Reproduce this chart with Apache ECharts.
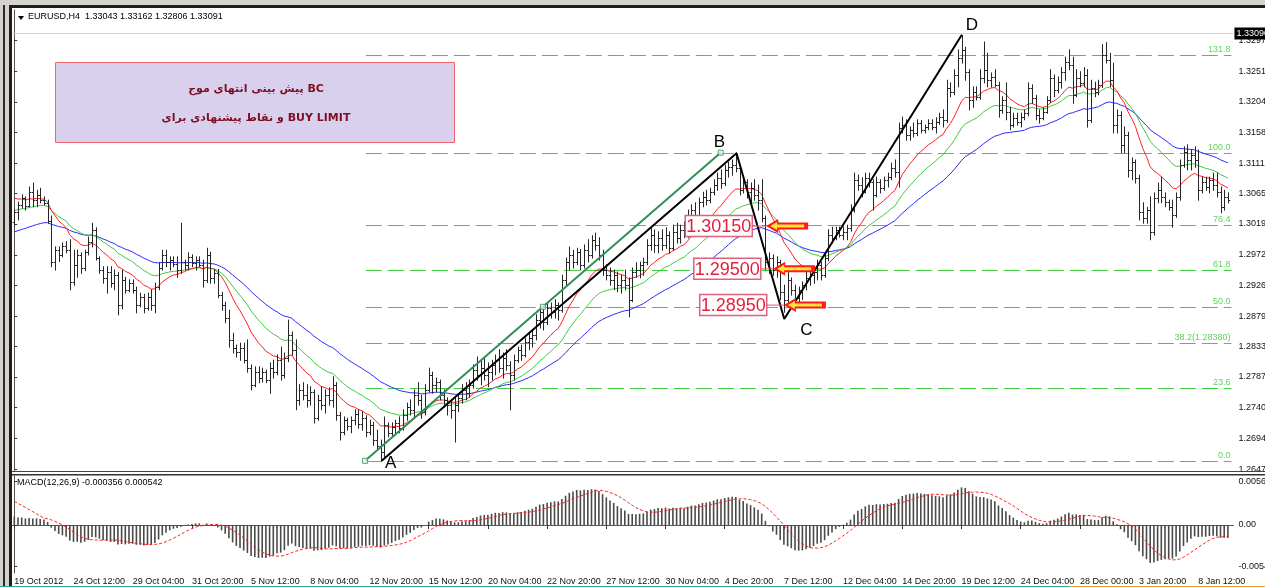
<!DOCTYPE html>
<html>
<head>
<meta charset="utf-8">
<script src="https://cdn.jsdelivr.net/npm/echarts@6/dist/echarts.min.js"></script>
<style>
html,body{margin:0;padding:0;background:#fff;}
#chart{width:1265px;height:587px;}
</style>
</head>
<body>
<div id="chart"></div>
<script>
// EURUSD H4 – bar chart with moving averages, ABCD pattern, Fibonacci levels and MACD(12,26,9)

const symbolName = 'EURUSD,H4';
const quoteOHLC = [1.33043, 1.33162, 1.32806, 1.33091];
const macdHeaderValues = [-0.000356, 0.000542];
const bidPrice = 1.33090;

// time-axis labels, one every 16 H4 bars
const tickLabels = ['19 Oct 2012','24 Oct 12:00','29 Oct 04:00','31 Oct 20:00','5 Nov 12:00','8 Nov 04:00',
  '12 Nov 20:00','15 Nov 12:00','20 Nov 04:00','22 Nov 20:00','27 Nov 12:00','30 Nov 04:00','4 Dec 20:00',
  '7 Dec 12:00','12 Dec 04:00','14 Dec 20:00','19 Dec 12:00','24 Dec 04:00','28 Dec 00:00','3 Jan 20:00','8 Jan 12:00'];
const barsPerTick = 16;
const slotCount = 330;

// price-scale labels
const priceTicks = [1.26470,1.26940,1.27400,1.27870,1.28330,1.28790,1.29260,1.29720,1.30190,1.30650,1.31110,1.31580,1.32040,1.32510,1.32970];
const macdTicks = [-0.00540, 0, 0.00561];

const barOpen = [
1.3022,1.3037,1.3048,1.3058,1.3046,1.3067,1.3055,1.3063,1.3055,1.3051,
1.3023,1.2961,1.2979,1.2972,1.2986,1.2979,1.2931,1.2956,1.2972,1.2952,
1.2976,1.2992,1.3010,1.2967,1.2949,1.2937,1.2946,1.2929,1.2941,1.2896,
1.2934,1.2919,1.2929,1.2919,1.2896,1.2908,1.2891,1.2908,1.2896,1.2923,
1.2952,1.2972,1.2961,1.2964,1.2958,1.2949,1.2961,1.2957,1.2969,1.2960,
1.2964,1.2957,1.2934,1.2972,1.2937,1.2945,1.2911,1.2896,1.2876,1.2843,
1.2831,1.2825,1.2831,1.2812,1.2800,1.2775,1.2794,1.2785,1.2794,1.2782,
1.2800,1.2794,1.2812,1.2790,1.2815,1.2850,1.2828,1.2752,1.2767,1.2759,
1.2752,1.2764,1.2724,1.2752,1.2744,1.2759,1.2752,1.2775,1.2729,1.2703,
1.2721,1.2712,1.2721,1.2730,1.2715,1.2724,1.2703,1.2714,1.2691,1.2682,
1.2673,1.2714,1.2702,1.2711,1.2717,1.2709,1.2729,1.2741,1.2737,1.2759,
1.2752,1.2734,1.2767,1.2790,1.2775,1.2779,1.2759,1.2752,1.2744,1.2737,
1.2744,1.2755,1.2767,1.2762,1.2775,1.2797,1.2790,1.2800,1.2790,1.2794,
1.2805,1.2812,1.2800,1.2815,1.2805,1.2790,1.2812,1.2828,1.2820,1.2840,
1.2846,1.2850,1.2873,1.2885,1.2870,1.2891,1.2885,1.2896,1.2888,1.2934,
1.2961,1.2972,1.2961,1.2976,1.2957,1.2979,1.2972,1.2995,1.2987,1.2972,
1.2949,1.2941,1.2934,1.2941,1.2926,1.2934,1.2926,1.2904,1.2946,1.2949,
1.2957,1.2961,1.2987,1.3002,1.2987,1.2998,1.2987,1.3002,1.2982,1.3007,
1.2998,1.3010,1.3002,1.3033,1.3040,1.3025,1.3052,1.3060,1.3055,1.3067,
1.3078,1.3089,1.3081,1.3101,1.3105,1.3108,1.3104,1.3070,1.3083,1.3067,
1.3074,1.3063,1.3055,1.3028,1.2961,1.2967,1.2949,1.2961,1.2916,1.2904,
1.2934,1.2919,1.2907,1.2919,1.2926,1.2937,1.2941,1.2946,1.2957,1.2941,
1.2967,1.3002,1.2998,1.3010,1.3002,1.3007,1.3013,1.3040,1.3086,1.3078,
1.3067,1.3089,1.3083,1.3063,1.3083,1.3074,1.3086,1.3090,1.3104,1.3098,
1.3165,1.3169,1.3154,1.3162,1.3157,1.3172,1.3162,1.3166,1.3172,1.3166,
1.3174,1.3181,1.3177,1.3225,1.3219,1.3245,1.3271,1.3283,1.3250,1.3207,
1.3219,1.3212,1.3240,1.3253,1.3237,1.3242,1.3230,1.3192,1.3207,1.3189,
1.3169,1.3180,1.3174,1.3181,1.3187,1.3225,1.3210,1.3184,1.3180,1.3189,
1.3207,1.3240,1.3222,1.3234,1.3250,1.3265,1.3260,1.3215,1.3240,1.3233,
1.3245,1.3177,1.3225,1.3219,1.3230,1.3275,1.3268,1.3237,1.3169,1.3184,
1.3139,1.3154,1.3101,1.3113,1.3089,1.3037,1.3028,1.3040,1.3007,1.3058,
1.3070,1.3060,1.3052,1.3045,1.3033,1.3060,1.3108,1.3128,1.3116,1.3124,
1.3116,1.3070,1.3083,1.3075,1.3086,1.3078,1.3067,1.3045,1.3060];

const barHigh = [
1.3040,1.3052,1.3063,1.3060,1.3075,1.3081,1.3070,1.3073,1.3060,1.3055,
1.3031,1.2984,1.2984,1.2990,1.2992,1.2995,1.2979,1.2979,1.2975,1.2979,
1.2999,1.3020,1.3013,1.2969,1.2954,1.2954,1.2954,1.2949,1.2945,1.2949,
1.2938,1.2934,1.2934,1.2923,1.2914,1.2912,1.2914,1.2919,1.2929,1.2960,
1.2979,1.2979,1.2969,1.2969,1.2969,1.3020,1.2964,1.2975,1.2972,1.2969,
1.2969,1.2964,1.2982,1.2976,1.2949,1.2950,1.2915,1.2900,1.2888,1.2853,
1.2835,1.2838,1.2838,1.2843,1.2805,1.2802,1.2802,1.2800,1.2797,1.2808,
1.2812,1.2820,1.2832,1.2823,1.2873,1.2855,1.2843,1.2775,1.2778,1.2775,
1.2772,1.2767,1.2759,1.2772,1.2767,1.2770,1.2787,1.2778,1.2733,1.2726,
1.2724,1.2726,1.2737,1.2737,1.2734,1.2728,1.2721,1.2718,1.2706,1.2691,
1.2726,1.2717,1.2717,1.2721,1.2726,1.2737,1.2747,1.2752,1.2767,1.2778,
1.2759,1.2775,1.2800,1.2794,1.2785,1.2782,1.2767,1.2755,1.2752,1.2755,
1.2759,1.2775,1.2778,1.2782,1.2805,1.2817,1.2812,1.2815,1.2808,1.2812,
1.2820,1.2828,1.2823,1.2828,1.2810,1.2820,1.2832,1.2835,1.2846,1.2853,
1.2858,1.2881,1.2893,1.2891,1.2899,1.2899,1.2904,1.2899,1.2941,1.2967,
1.2984,1.2979,1.2982,1.2980,1.2987,1.2995,1.3001,1.3005,1.2998,1.2979,
1.2957,1.2952,1.2949,1.2946,1.2941,1.2949,1.2937,1.2952,1.2960,1.2961,
1.2967,1.2995,1.3014,1.3010,1.3007,1.3010,1.3013,1.3007,1.3017,1.3020,
1.3017,1.3022,1.3040,1.3048,1.3051,1.3058,1.3067,1.3070,1.3073,1.3086,
1.3096,1.3101,1.3108,1.3113,1.3116,1.3127,1.3108,1.3089,1.3086,1.3081,
1.3086,1.3078,1.3086,1.3031,1.2975,1.2972,1.2969,1.2964,1.2926,1.2945,
1.2937,1.2926,1.2923,1.2931,1.2946,1.2949,1.2952,1.2964,1.2961,1.2975,
1.3010,1.3014,1.3014,1.3014,1.3014,1.3017,1.3048,1.3096,1.3093,1.3089,
1.3096,1.3096,1.3086,1.3090,1.3086,1.3090,1.3096,1.3111,1.3116,1.3172,
1.3181,1.3177,1.3166,1.3172,1.3177,1.3176,1.3169,1.3177,1.3177,1.3180,
1.3187,1.3192,1.3237,1.3233,1.3253,1.3283,1.3305,1.3287,1.3253,1.3227,
1.3227,1.3253,1.3295,1.3278,1.3248,1.3253,1.3234,1.3212,1.3233,1.3196,
1.3187,1.3187,1.3187,1.3192,1.3233,1.3230,1.3214,1.3192,1.3195,1.3212,
1.3253,1.3245,1.3242,1.3256,1.3272,1.3283,1.3272,1.3253,1.3250,1.3256,
1.3253,1.3237,1.3234,1.3237,1.3291,1.3294,1.3278,1.3263,1.3192,1.3189,
1.3166,1.3158,1.3119,1.3116,1.3093,1.3051,1.3044,1.3060,1.3066,1.3081,
1.3090,1.3066,1.3055,1.3055,1.3066,1.3116,1.3136,1.3139,1.3131,1.3136,
1.3131,1.3090,1.3090,1.3090,1.3096,1.3096,1.3075,1.3070,1.3066];

const barLow = [
1.3014,1.3025,1.3043,1.3040,1.3045,1.3045,1.3045,1.3051,1.3048,1.3020,
1.2954,1.2949,1.2962,1.2969,1.2975,1.2919,1.2926,1.2938,1.2944,1.2948,
1.2972,1.2984,1.2964,1.2944,1.2929,1.2914,1.2923,1.2919,1.2881,1.2890,
1.2914,1.2916,1.2914,1.2884,1.2893,1.2884,1.2888,1.2888,1.2884,1.2919,
1.2949,1.2954,1.2949,1.2954,1.2938,1.2944,1.2949,1.2949,1.2954,1.2949,
1.2954,1.2923,1.2930,1.2929,1.2929,1.2907,1.2888,1.2869,1.2832,1.2823,
1.2817,1.2812,1.2808,1.2794,1.2767,1.2772,1.2778,1.2779,1.2778,1.2762,
1.2785,1.2790,1.2782,1.2785,1.2810,1.2820,1.2737,1.2744,1.2752,1.2741,
1.2744,1.2717,1.2721,1.2737,1.2732,1.2744,1.2741,1.2721,1.2691,1.2699,
1.2706,1.2702,1.2714,1.2709,1.2706,1.2696,1.2699,1.2683,1.2676,1.2659,
1.2666,1.2696,1.2696,1.2699,1.2702,1.2706,1.2721,1.2729,1.2726,1.2744,
1.2724,1.2729,1.2764,1.2762,1.2764,1.2752,1.2741,1.2729,1.2724,1.2688,
1.2734,1.2747,1.2752,1.2756,1.2770,1.2782,1.2775,1.2782,1.2772,1.2782,
1.2790,1.2794,1.2785,1.2797,1.2737,1.2782,1.2809,1.2812,1.2817,1.2828,
1.2832,1.2843,1.2861,1.2858,1.2866,1.2876,1.2876,1.2873,1.2885,1.2926,
1.2949,1.2952,1.2957,1.2949,1.2952,1.2961,1.2967,1.2979,1.2964,1.2941,
1.2934,1.2926,1.2919,1.2916,1.2914,1.2919,1.2878,1.2901,1.2938,1.2937,
1.2941,1.2957,1.2979,1.2976,1.2975,1.2979,1.2982,1.2975,1.2979,1.2990,
1.2990,1.2998,1.2998,1.3022,1.3017,1.3022,1.3045,1.3048,1.3051,1.3063,
1.3070,1.3073,1.3077,1.3090,1.3093,1.3098,1.3063,1.3066,1.3058,1.3045,
1.3055,1.3040,1.3022,1.2949,1.2944,1.2941,1.2938,1.2904,1.2885,1.2900,
1.2911,1.2899,1.2899,1.2904,1.2919,1.2926,1.2929,1.2934,1.2934,1.2938,
1.2963,1.2990,1.2995,1.2999,1.2995,1.2995,1.3008,1.3037,1.3070,1.3060,
1.3066,1.3075,1.3040,1.3060,1.3066,1.3070,1.3075,1.3086,1.3090,1.3075,
1.3157,1.3146,1.3146,1.3151,1.3153,1.3157,1.3157,1.3162,1.3162,1.3157,
1.3170,1.3166,1.3173,1.3212,1.3215,1.3227,1.3263,1.3237,1.3192,1.3196,
1.3207,1.3208,1.3233,1.3227,1.3227,1.3227,1.3181,1.3187,1.3177,1.3162,
1.3166,1.3169,1.3166,1.3177,1.3183,1.3202,1.3177,1.3172,1.3177,1.3187,
1.3203,1.3212,1.3218,1.3225,1.3237,1.3253,1.3202,1.3212,1.3227,1.3227,
1.3166,1.3173,1.3212,1.3215,1.3226,1.3263,1.3227,1.3157,1.3157,1.3127,
1.3127,1.3090,1.3086,1.3081,1.3025,1.3020,1.3020,1.2995,1.3002,1.3051,
1.3051,1.3045,1.3040,1.3014,1.3029,1.3055,1.3105,1.3101,1.3101,1.3105,
1.3055,1.3066,1.3070,1.3066,1.3070,1.3060,1.3036,1.3040,1.3051];

const barClose = [
1.3037,1.3048,1.3058,1.3046,1.3067,1.3055,1.3063,1.3055,1.3051,1.3023,
1.2961,1.2979,1.2972,1.2986,1.2979,1.2931,1.2956,1.2972,1.2952,1.2976,
1.2992,1.3010,1.2967,1.2949,1.2937,1.2946,1.2929,1.2941,1.2896,1.2934,
1.2919,1.2929,1.2919,1.2896,1.2908,1.2891,1.2908,1.2896,1.2923,1.2952,
1.2972,1.2961,1.2964,1.2958,1.2949,1.2961,1.2957,1.2969,1.2960,1.2964,
1.2957,1.2934,1.2972,1.2937,1.2945,1.2911,1.2896,1.2876,1.2843,1.2831,
1.2825,1.2831,1.2812,1.2800,1.2775,1.2794,1.2785,1.2794,1.2782,1.2800,
1.2794,1.2812,1.2790,1.2815,1.2850,1.2828,1.2752,1.2767,1.2759,1.2752,
1.2764,1.2724,1.2752,1.2744,1.2759,1.2752,1.2775,1.2729,1.2703,1.2721,
1.2712,1.2721,1.2730,1.2715,1.2724,1.2703,1.2714,1.2691,1.2682,1.2673,
1.2714,1.2702,1.2711,1.2717,1.2709,1.2729,1.2741,1.2737,1.2759,1.2752,
1.2734,1.2767,1.2790,1.2775,1.2779,1.2759,1.2752,1.2744,1.2737,1.2744,
1.2755,1.2767,1.2762,1.2775,1.2797,1.2790,1.2800,1.2790,1.2794,1.2805,
1.2812,1.2800,1.2815,1.2805,1.2790,1.2812,1.2828,1.2820,1.2840,1.2846,
1.2850,1.2873,1.2885,1.2870,1.2891,1.2885,1.2896,1.2888,1.2934,1.2961,
1.2972,1.2961,1.2976,1.2957,1.2979,1.2972,1.2995,1.2987,1.2972,1.2949,
1.2941,1.2934,1.2941,1.2926,1.2934,1.2926,1.2904,1.2946,1.2949,1.2957,
1.2961,1.2987,1.3002,1.2987,1.2998,1.2987,1.3002,1.2982,1.3007,1.2998,
1.3010,1.3002,1.3033,1.3040,1.3025,1.3052,1.3060,1.3055,1.3067,1.3078,
1.3089,1.3081,1.3101,1.3105,1.3108,1.3104,1.3070,1.3083,1.3067,1.3074,
1.3063,1.3055,1.3028,1.2961,1.2967,1.2949,1.2961,1.2916,1.2904,1.2934,
1.2919,1.2907,1.2919,1.2926,1.2937,1.2941,1.2946,1.2957,1.2941,1.2967,
1.3002,1.2998,1.3010,1.3002,1.3007,1.3013,1.3040,1.3086,1.3078,1.3067,
1.3089,1.3083,1.3063,1.3083,1.3074,1.3086,1.3090,1.3104,1.3098,1.3165,
1.3169,1.3154,1.3162,1.3157,1.3172,1.3162,1.3166,1.3172,1.3166,1.3174,
1.3181,1.3177,1.3225,1.3219,1.3245,1.3271,1.3283,1.3250,1.3207,1.3219,
1.3212,1.3240,1.3253,1.3237,1.3242,1.3230,1.3192,1.3207,1.3189,1.3169,
1.3180,1.3174,1.3181,1.3187,1.3225,1.3210,1.3184,1.3180,1.3189,1.3207,
1.3240,1.3222,1.3234,1.3250,1.3265,1.3260,1.3215,1.3240,1.3233,1.3245,
1.3177,1.3225,1.3219,1.3230,1.3275,1.3268,1.3237,1.3169,1.3184,1.3139,
1.3154,1.3101,1.3113,1.3089,1.3037,1.3028,1.3040,1.3007,1.3058,1.3070,
1.3060,1.3052,1.3045,1.3033,1.3060,1.3108,1.3128,1.3116,1.3124,1.3116,
1.3070,1.3083,1.3075,1.3086,1.3078,1.3067,1.3045,1.3060,1.3055];

// moving averages (exponential), value of each average at the first bar
const maPeriods = [14, 26, 48];
const maStart = [1.3058, 1.3040, 1.3007];
// MACD(12,26,9): fast/slow EMA and signal value at the first bar
const macdStart = [1.3052, 1.3041, 0.0033];

// ABCD swing points [bar, price, name]
const pivots = [[99.3, 1.26596, 'A'], [195.2, 1.31261, 'B'], [208.1, 1.28746, 'C'], [256.1, 1.33061, 'D']];
// trend line drawn along the AB leg
const trendLine = [[94.8, 1.26594], [190.9, 1.31270]];
// Fibonacci retracement anchored on AB
const fibLow = 1.26594, fibHigh = 1.31270, fibStartBar = 95;
const fibLevels = [0, 23.6, 38.2, 50, 61.8, 76.4, 100, 131.8];
// suggested buy-limit prices
const buyLimits = [1.30150, 1.29500, 1.28950];

// ---------- layout / style ----------
const GRID_LEFT = 12.45, GRID_W = 1221;
const FONT = "'Liberation Sans', Arial, sans-serif";
const labelPlacement = [{box: 190.4, arrow: 203.2}, {box: 192.7, arrow: 205.1}, {box: 194.3, arrow: 208.0}];
const pivotOffsets = {A: [9, 3], B: [-17, -11], C: [22, 11], D: [10, -9]};

function ema(values, period, start) {
  const k = 2 / (period + 1);
  let prev = start;
  return values.map((v, i) => {
    if (i > 0) prev = prev + k * (v - prev);
    return prev;
  });
}

const ohlc = barClose.map((c, i) => [i, barOpen[i], barHigh[i], barLow[i], c]);
const maSeries = maPeriods.map((p, k) => ema(barClose, p, maStart[k]).map((v, i) => [i, v]));

const fastLine = ema(barClose, 12, macdStart[0]);
const slowLine = ema(barClose, 26, macdStart[1]);
const macdMain = fastLine.map((f, i) => f - slowLine[i]);
const macdSignal = macdMain.map((_, i) => {
  let s = 0;
  for (let j = i - 8; j <= i; j++) s += j < 0 ? macdStart[2] : macdMain[j];
  return s / 9;
});

const fibData = fibLevels.map(l => [fibStartBar, fibLow + (fibHigh - fibLow) * l / 100, l]);
const trendMid = [(trendLine[0][0] + trendLine[1][0]) / 2, (trendLine[0][1] + trendLine[1][1]) / 2];
const limitData = buyLimits.map((p, k) => [labelPlacement[k].box, p, labelPlacement[k].arrow]);

const tickIdx = tickLabels.map((_, k) => k * barsPerTick);

const chart = echarts.init(document.getElementById('chart'), null, {renderer: 'canvas'});

const option = {
  animation: false,
  backgroundColor: '#ffffff',
  grid: [
    {left: GRID_LEFT, top: 10, width: GRID_W, height: 461, outerBoundsMode: 'none', containLabel: false},
    {left: GRID_LEFT, top: 476, width: GRID_W, height: 97, outerBoundsMode: 'none', containLabel: false}
  ],
  xAxis: [
    {gridIndex: 0, type: 'value', min: -0.5, max: slotCount - 0.5, show: false},
    {gridIndex: 1, type: 'value', min: -0.5, max: slotCount - 0.5,
      axisLine: {show: true, lineStyle: {color: '#555', width: 1}},
      axisTick: {show: true, customValues: tickIdx, length: 4, lineStyle: {color: '#333'}},
      axisLabel: {show: true, customValues: tickIdx, formatter: v => tickLabels[Math.round(v / barsPerTick)] || '',
        align: 'left', margin: 4, fontSize: 9, color: '#111', fontFamily: FONT, hideOverlap: false},
      splitLine: {show: false}}
  ],
  yAxis: [
    {gridIndex: 0, type: 'value', position: 'right', min: 1.26440, max: 1.33436,
      axisLine: {show: true, lineStyle: {color: '#555'}},
      axisTick: {show: true, customValues: priceTicks, length: 3, lineStyle: {color: '#333'}},
      axisLabel: {show: true, customValues: priceTicks, formatter: v => v.toFixed(5), margin: 5,
        fontSize: 9, color: '#111', fontFamily: FONT},
      splitLine: {show: false}},
    {gridIndex: 1, type: 'value', position: 'right', min: -0.00622, max: 0.00635,
      axisLine: {show: true, lineStyle: {color: '#555'}},
      axisTick: {show: true, customValues: macdTicks, length: 3, lineStyle: {color: '#333'}},
      axisLabel: {show: true, customValues: macdTicks, formatter: v => v === 0 ? '0.00' : v.toFixed(5), margin: 5,
        fontSize: 9, color: '#111', fontFamily: FONT},
      splitLine: {show: false}}
  ],
  series: [
    // Fibonacci levels
    {
      type: 'custom', xAxisIndex: 0, yAxisIndex: 0, data: fibData, encode: {x: 0, y: 1}, z: 1,
      renderItem(params, api) {
        const price = api.value(1), lvl = api.value(2);
        const a = api.coord([api.value(0), price]);
        const b = api.coord([slotCount - 0.5, price]);
        const y = Math.round(a[1]) + 0.5;
        const txt = lvl === 38.2 ? lvl.toFixed(1) + '(' + price.toFixed(5) + ')' : lvl.toFixed(1);
        return {type: 'group', children: [
          {type: 'line', shape: {x1: a[0], y1: y, x2: b[0] - 2, y2: y},
            style: {stroke: '#3fcc3f', lineWidth: 1, lineDash: [16, 6]}},
          {type: 'text', x: b[0] - 3, y: y - 6,
            style: {text: txt, fill: '#5fd35f', font: '9px ' + FONT, align: 'right', verticalAlign: 'middle'}}
        ]};
      }
    },
    // current bid line
    {
      type: 'custom', xAxisIndex: 0, yAxisIndex: 0, data: [[0, bidPrice]], encode: {x: 0, y: 1}, z: 1,
      renderItem(params, api) {
        const a = api.coord([-0.5, api.value(1)]);
        const b = api.coord([slotCount - 0.5, api.value(1)]);
        const y = Math.round(a[1]) + 0.5;
        return {type: 'group', children: [
          {type: 'line', shape: {x1: a[0], y1: y, x2: b[0], y2: y}, style: {stroke: '#d0d0f4', lineWidth: 1}},
          {type: 'rect', shape: {x: b[0] + 1, y: y - 6, width: 40, height: 12}, style: {fill: '#000'}},
          {type: 'text', x: b[0] + 3, y: y, style: {text: api.value(1).toFixed(5), fill: '#fff',
            font: '9px ' + FONT, align: 'left', verticalAlign: 'middle'}}
        ]};
      }
    },
    // moving averages
    {type: 'line', xAxisIndex: 0, yAxisIndex: 0, data: maSeries[2], showSymbol: false, z: 2,
      lineStyle: {color: '#2a2aff', width: 1}},
    {type: 'line', xAxisIndex: 0, yAxisIndex: 0, data: maSeries[1], showSymbol: false, z: 2,
      lineStyle: {color: '#3ccc3c', width: 1}},
    {type: 'line', xAxisIndex: 0, yAxisIndex: 0, data: maSeries[0], showSymbol: false, z: 2,
      lineStyle: {color: '#ff2020', width: 1}},
    // OHLC bars
    {
      type: 'custom', xAxisIndex: 0, yAxisIndex: 0, data: ohlc, encode: {x: 0, y: [2, 3]}, z: 3,
      renderItem(params, api) {
        const i = api.value(0);
        const h = api.coord([i, api.value(2)]), l = api.coord([i, api.value(3)]);
        const o = api.coord([i, api.value(1)]), c = api.coord([i, api.value(4)]);
        const x = Math.round(h[0]) + 0.5;
        const st = {stroke: '#262626', lineWidth: 1};
        return {type: 'group', children: [
          {type: 'line', shape: {x1: x, y1: h[1] - 0.5, x2: x, y2: l[1] + 0.5}, style: st},
          {type: 'line', shape: {x1: x - 1.8, y1: Math.round(o[1]) + 0.5, x2: x, y2: Math.round(o[1]) + 0.5}, style: st},
          {type: 'line', shape: {x1: x, y1: Math.round(c[1]) + 0.5, x2: x + 1.8, y2: Math.round(c[1]) + 0.5}, style: st}
        ]};
      }
    },
    // trend line with its handles
    {type: 'line', xAxisIndex: 0, yAxisIndex: 0, data: trendLine, showSymbol: false, z: 4,
      lineStyle: {color: '#2f8f55', width: 2}},
    {type: 'scatter', xAxisIndex: 0, yAxisIndex: 0, data: [trendLine[0], trendMid, trendLine[1]], z: 5,
      symbol: 'rect', symbolSize: 5, itemStyle: {color: '#e8f5ec', borderColor: '#2f8f55', borderWidth: 1}},
    // ABCD zigzag
    {type: 'line', xAxisIndex: 0, yAxisIndex: 0, data: pivots.map(p => [p[0], p[1]]), showSymbol: false, z: 6,
      lineStyle: {color: '#000', width: 2}},
    {
      type: 'custom', xAxisIndex: 0, yAxisIndex: 0, data: pivots, encode: {x: 0, y: 1}, z: 7,
      renderItem(params, api) {
        const name = pivots[params.dataIndex][2];
        const p = api.coord([api.value(0), api.value(1)]);
        const off = pivotOffsets[name];
        return {type: 'text', x: p[0] + off[0], y: p[1] + off[1],
          style: {text: name, fill: '#000', font: '17px ' + FONT, align: 'center', verticalAlign: 'middle'}};
      }
    },
    // buy-limit price labels with arrows
    {
      type: 'custom', xAxisIndex: 0, yAxisIndex: 0, data: limitData, encode: {x: 0, y: 1}, z: 8,
      renderItem(params, api) {
        const price = api.value(1);
        const b = api.coord([api.value(0), price]);
        const t = api.coord([api.value(2), price]);
        const y = b[1] - 0.5;
        const w = 67, h = 21;
        const tx = t[0];
        const arrowOuter = [[0,0],[12,-7],[12,-3.5],[42,-3.5],[42,3.5],[12,3.5],[12,7]].map(q => [tx + q[0], y + q[1]]);
        const arrowInner = [[4,0],[11,-4],[11,-1.5],[38,-1.5],[38,1.5],[11,1.5],[11,4]].map(q => [tx + q[0], y + q[1]]);
        return {type: 'group', children: [
          {type: 'line', shape: {x1: b[0] + w / 2, y1: y, x2: tx, y2: y}, style: {stroke: '#e25875', lineWidth: 1}},
          {type: 'rect', shape: {x: b[0] - w / 2, y: y - h / 2, width: w, height: h},
            style: {fill: '#fff', stroke: '#e0607c', lineWidth: 1.5}},
          {type: 'text', x: b[0], y: y + 1,
            style: {text: price.toFixed(5), fill: '#e61e3c', font: '18px ' + FONT, align: 'center', verticalAlign: 'middle'}},
          {type: 'polygon', shape: {points: arrowOuter}, style: {fill: '#ff1a1a'}},
          {type: 'polygon', shape: {points: arrowInner}, style: {fill: '#ffe23a'}}
        ]};
      }
    },
    // MACD histogram and signal
    {type: 'bar', xAxisIndex: 1, yAxisIndex: 1, data: macdMain.map((v, i) => [i, v]), barWidth: 1.6,
      itemStyle: {color: '#4a4a4a'}},
    {type: 'line', xAxisIndex: 1, yAxisIndex: 1, data: macdSignal.map((v, i) => [i, v]), showSymbol: false,
      lineStyle: {color: '#ff2020', width: 1, type: [3, 2]}}
  ],
  graphic: [
    // window frame
    {type: 'rect', shape: {x: 0, y: 0, width: 1265, height: 5}, style: {fill: '#d6d3ce'}, z: 100},
    {type: 'rect', shape: {x: 0, y: 5, width: 1265, height: 3}, style: {fill: '#1e1e1e'}, z: 100},
    {type: 'rect', shape: {x: 0, y: 0, width: 3, height: 587}, style: {fill: '#d6d3ce'}, z: 100},
    {type: 'rect', shape: {x: 3, y: 5, width: 2, height: 582}, style: {fill: '#2a2a2a'}, z: 100},
    {type: 'rect', shape: {x: 5, y: 5, width: 4, height: 582}, style: {fill: '#d6d3ce'}, z: 100},
    {type: 'rect', shape: {x: 9, y: 5, width: 3, height: 582}, style: {fill: '#1e1e1e'}, z: 100},
    // separator between price and MACD panels
    {type: 'rect', shape: {x: 12, y: 471, width: 1253, height: 1}, style: {fill: '#444'}, z: 100},
    {type: 'rect', shape: {x: 12, y: 474, width: 1253, height: 1.5}, style: {fill: '#333'}, z: 100},
    // status strip
    {type: 'rect', shape: {x: 0, y: 586, width: 1069, height: 1}, style: {fill: '#2aa89a'}, z: 100},
    {type: 'rect', shape: {x: 1069, y: 586, width: 196, height: 1}, style: {fill: '#f0a030'}, z: 100},
    // headers
    {type: 'polygon', shape: {points: [[18, 16], [24, 16], [21, 20]]}, style: {fill: '#000'}, z: 100},
    {type: 'text', left: 28, top: 12, z: 100,
      style: {text: symbolName + '  ' + quoteOHLC.map(v => v.toFixed(5)).join(' '), fill: '#000', font: '9px ' + FONT}},
    {type: 'text', left: 17, top: 478, z: 100,
      style: {text: 'MACD(12,26,9) ' + macdHeaderValues.map(v => v.toFixed(6)).join(' '), fill: '#000', font: '9px ' + FONT}},
    // comment box
    {type: 'rect', shape: {x: 55.5, y: 62.5, width: 399, height: 80}, z: 100,
      style: {fill: '#d9d0ee', stroke: '#f06470', lineWidth: 1}},
    {type: 'text', x: 256, y: 89, z: 101,
      style: {text: 'پیش بینی انتهای موج BC', fill: '#7e0f22', font: "bold 11px 'DejaVu Sans', sans-serif",
        align: 'center', verticalAlign: 'middle'}},
    {type: 'text', x: 256, y: 118, z: 101,
      style: {text: 'و نقاط پیشنهادی برای BUY LIMIT', fill: '#7e0f22', font: "bold 11px 'DejaVu Sans', sans-serif",
        align: 'center', verticalAlign: 'middle'}}
  ]
};

chart.setOption(option);
</script>
</body>
</html>
